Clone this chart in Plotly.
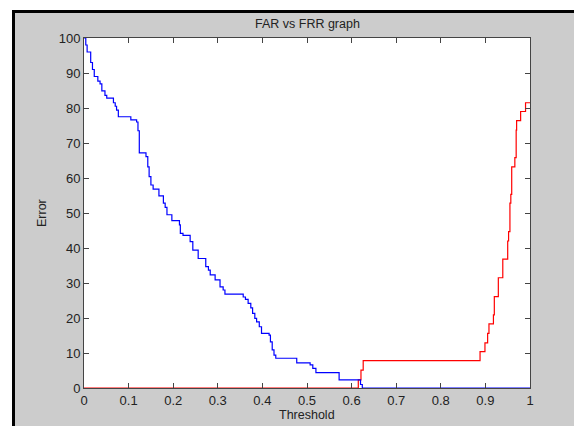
import plotly.graph_objects as go

# FAR (blue) step curve: threshold vs error
far_thr = [0.000, 0.004, 0.007, 0.015, 0.019, 0.023, 0.031, 0.036, 0.040, 0.047,
           0.051, 0.066, 0.070, 0.073, 0.077, 0.105, 0.118, 0.121, 0.124, 0.139,
           0.143, 0.146, 0.150, 0.155, 0.168, 0.178, 0.182, 0.186, 0.197, 0.214,
           0.216, 0.222, 0.238, 0.244, 0.256, 0.273, 0.279, 0.283, 0.294, 0.305,
           0.312, 0.316, 0.357, 0.362, 0.368, 0.374, 0.378, 0.383, 0.387, 0.393,
           0.398, 0.415, 0.418, 0.422, 0.426, 0.430, 0.477, 0.507, 0.513, 0.520,
           0.572, 0.620, 0.624, 1.000]
far_val = [100.0, 98.0, 96.0, 93.0, 91.0, 89.0, 87.7, 86.9, 84.9, 83.6,
           82.8, 81.5, 80.5, 79.4, 77.5, 76.6, 76.0, 73.5, 67.2, 66.1,
           63.2, 60.4, 58.0, 56.8, 54.9, 52.8, 51.6, 49.5, 47.8, 46.6,
           44.2, 43.6, 41.8, 39.4, 37.0, 34.7, 33.7, 32.3, 30.9, 28.9,
           28.0, 26.8, 26.0, 25.3, 24.2, 22.9, 21.3, 19.9, 18.9, 17.5,
           15.6, 15.1, 13.2, 10.9, 9.4, 8.5, 7.2, 6.6, 5.6, 4.4,
           2.3, 1.0, 0.0, 0.0]

# FRR (red) step curve
frr_thr = [0.000, 0.615, 0.621, 0.626, 0.888, 0.899, 0.905, 0.908, 0.918, 0.920,
           0.929, 0.939, 0.950, 0.952, 0.955, 0.957, 0.959, 0.966, 0.969, 0.970,
           0.979, 0.990, 1.000]
frr_val = [0.0, 2.3, 5.1, 7.8, 10.4, 12.9, 15.6, 18.3, 20.9, 26.1,
           31.5, 36.8, 42.0, 44.7, 52.8, 55.3, 63.2, 65.8, 73.7, 76.4,
           79.0, 81.5, 81.5]

x_ticks = [0, 0.1, 0.2, 0.3, 0.4, 0.5, 0.6, 0.7, 0.8, 0.9, 1]
x_tick_labels = ["0", "0.1", "0.2", "0.3", "0.4", "0.5", "0.6", "0.7", "0.8", "0.9", "1"]
y_ticks = [0, 10, 20, 30, 40, 50, 60, 70, 80, 90, 100]

title_text = "FAR vs FRR graph"
x_title = "Threshold"
y_title = "Error"

OFF = 8  # page body margin
PW, PH = 582, 426  # page size
W, H = PW - OFF, PH - OFF  # figure size
# plot area in page pixels
L, R, T, B = 84, 530, 38, 388

def px(xp):  # page pixel -> paper x
    return (xp - L) / (R - L)

def py(yp):  # page pixel -> paper y
    return (B - yp) / (B - T)

FONT = "Liberation Sans, Arial, sans-serif"

fig = go.Figure()
fig.add_trace(go.Scatter(x=frr_thr, y=frr_val, mode="lines", line_shape="hv",
                         line=dict(color="#ff0000", width=1.2), name="FRR"))
fig.add_trace(go.Scatter(x=far_thr, y=far_val, mode="lines", line_shape="hv",
                         line=dict(color="#0000ff", width=1.2), name="FAR"))

axis_common = dict(
    showgrid=False, zeroline=False, showline=True, linecolor="#444444", linewidth=1,
    mirror="ticks", ticks="inside", ticklen=5, tickcolor="#444444", tickwidth=1,
    tickfont=dict(family=FONT, size=13, color="#222222"),
)

fig.update_xaxes(range=[0, 1], tickvals=x_ticks, ticktext=x_tick_labels, **axis_common)
fig.update_yaxes(range=[0, 100], tickvals=y_ticks, **axis_common)

shapes = [
    # white strips outside the figure frame
    dict(type="rect", xref="paper", yref="paper", x0=px(0), x1=px(PW), y0=py(10), y1=py(0),
         fillcolor="white", line=dict(width=0), layer="below"),
    dict(type="rect", xref="paper", yref="paper", x0=px(0), x1=px(12), y0=py(PH), y1=py(0),
         fillcolor="white", line=dict(width=0), layer="below"),
    # black frame lines
    dict(type="line", xref="paper", yref="paper", x0=px(12), x1=px(PW), y0=py(11.5), y1=py(11.5),
         line=dict(color="black", width=3)),
    dict(type="line", xref="paper", yref="paper", x0=px(13.5), x1=px(13.5), y0=py(10), y1=py(PH),
         line=dict(color="black", width=3)),
    dict(type="line", xref="paper", yref="paper", x0=px(580.5), x1=px(580.5), y0=py(10), y1=py(PH),
         line=dict(color="black", width=3)),
]

annotations = [
    dict(text=x_title, xref="paper", yref="paper", x=px(307), y=py(415),
         xanchor="center", yanchor="middle", showarrow=False,
         font=dict(family=FONT, size=12.5, color="#222222")),
    dict(text=y_title, xref="paper", yref="paper", x=px(42), y=py(213),
         xanchor="center", yanchor="middle", showarrow=False, textangle=-90,
         font=dict(family=FONT, size=12.5, color="#222222")),
    dict(text=title_text, xref="paper", yref="paper", x=px(307), y=py(23.5),
         xanchor="center", yanchor="middle", showarrow=False,
         font=dict(family=FONT, size=12.5, color="#222222")),
]

fig.update_layout(
    width=W, height=H,
    margin=dict(l=L - OFF, r=PW - R, t=T - OFF, b=PH - B, pad=0, autoexpand=False),
    paper_bgcolor="#cccccc", plot_bgcolor="white",
    showlegend=False,
    shapes=shapes, annotations=annotations,
)

fig.write_html("out.html")
